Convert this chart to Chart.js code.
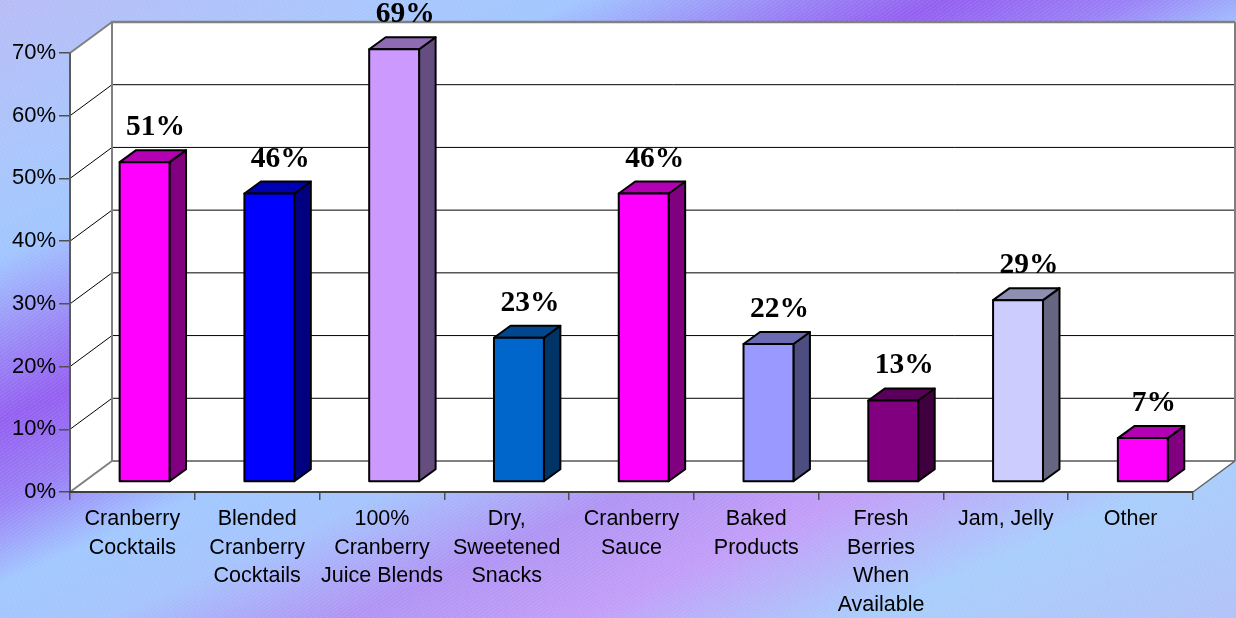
<!DOCTYPE html>
<html>
<head>
<meta charset="utf-8">
<script src="https://cdn.jsdelivr.net/npm/chart.js@4.4.1/dist/chart.umd.min.js"></script>
<style>
  html, body { margin: 0; padding: 0; overflow: hidden; }
  body {
    width: 1236px; height: 618px;
    background:
      repeating-linear-gradient(-35deg, rgba(255,255,255,0.07) 0 1px, rgba(255,255,255,0) 1px 3px),
      linear-gradient(156deg,
        #b8bcf6 0%, #aac6fc 14%, #a2c6ff 22%, #9a88f6 30%, #9460f0 36%,
        #9a80f6 43%, #a2c8ff 50%, #a6c4fd 57%, #b094f4 66%, #c29ef8 75%,
        #a8cefc 86%, #b2c2f8 100%);
  }
  #wrap { position: absolute; left: 0; top: 0; width: 1236px; height: 618px; }
</style>
</head>
<body>
<div id="wrap"><canvas id="cranChart" width="1236" height="618"></canvas></div>
<script>
/* 3D column chart: cranberry product usage */

const categories = [
  ['Cranberry', 'Cocktails'],
  ['Blended', 'Cranberry', 'Cocktails'],
  ['100%', 'Cranberry', 'Juice Blends'],
  ['Dry,', 'Sweetened', 'Snacks'],
  ['Cranberry', 'Sauce'],
  ['Baked', 'Products'],
  ['Fresh', 'Berries', 'When', 'Available'],
  ['Jam, Jelly'],
  ['Other'],
];
const shares = [51, 46, 69, 23, 46, 22, 13, 29, 7];
const barColors = ['#FF00FF', '#0000FF', '#CC99FF', '#0066CC', '#FF00FF', '#9999FF', '#800080', '#CCCCFF', '#FF00FF'];
const yMax = 70;
const yStep = 10;

// projection of the floor / walls and of each column's depth
const WALL = { dx: 42, dy: -31 };
const COL = { ox: 12.2, oy: -10, dx: 16.5, dy: -12 };
const EDGE = '#808080';

function shade(hex, f) {
  const n = parseInt(hex.slice(1), 16);
  const r = Math.round(((n >> 16) & 255) * f);
  const g = Math.round(((n >> 8) & 255) * f);
  const b = Math.round((n & 255) * f);
  return `rgb(${r},${g},${b})`;
}

function poly(ctx, pts) {
  ctx.beginPath();
  ctx.moveTo(pts[0][0], pts[0][1]);
  for (let i = 1; i < pts.length; i++) ctx.lineTo(pts[i][0], pts[i][1]);
  ctx.closePath();
}

function line(ctx, x1, y1, x2, y2, color, w) {
  ctx.beginPath(); ctx.moveTo(x1, y1); ctx.lineTo(x2, y2);
  ctx.strokeStyle = color; ctx.lineWidth = w; ctx.stroke();
}

const box3d = {
  id: 'box3d',
  beforeDatasetsDraw(chart) {
    const { ctx, chartArea: a, scales: { y } } = chart;
    const { dx, dy } = WALL;
    ctx.save();
    // back wall, side wall, floor
    ctx.fillStyle = '#ffffff';
    ctx.fillRect(a.left + dx, a.top + dy, a.right - a.left, a.bottom - a.top);
    poly(ctx, [[a.left, a.top], [a.left + dx, a.top + dy], [a.left + dx, a.bottom + dy], [a.left, a.bottom]]);
    ctx.fill();
    poly(ctx, [[a.left, a.bottom], [a.left + dx, a.bottom + dy], [a.right + dx, a.bottom + dy], [a.right, a.bottom]]);
    ctx.fill();

    // gridlines on the side and back walls
    y.ticks.forEach(t => {
      if (t.value === 0 || t.value === yMax) return;
      const py = y.getPixelForValue(t.value);
      line(ctx, a.left, py, a.left + dx, py + dy, '#000000', 1);
      line(ctx, a.left + dx, py + dy, a.right + dx, py + dy, '#000000', 1);
    });

    // wall edges
    const yt = y.getPixelForValue(yMax), yb = y.getPixelForValue(0);
    line(ctx, a.left, yt, a.left + dx, yt + dy, EDGE, 2);
    line(ctx, a.left + dx - 1, yt + dy, a.right + dx, yt + dy, EDGE, 2.5);
    line(ctx, a.left + dx, yt + dy, a.left + dx, yb + dy, EDGE, 2);
    line(ctx, a.right + dx, yt + dy, a.right + dx, yb + dy, EDGE, 2);
    line(ctx, a.left, yb, a.left + dx, yb + dy, EDGE, 2);
    line(ctx, a.left + dx, yb + dy, a.right + dx, yb + dy, EDGE, 2);
    line(ctx, a.right, yb, a.right + dx, yb + dy, '#606060', 1.5);

    // front axes
    line(ctx, a.left, yt, a.left, yb + 1, '#5a5a5a', 2);
    line(ctx, a.left - 1, yb, a.right, yb, '#404040', 2);
    ctx.restore();
  },
  afterDatasetsDraw(chart) {
    const { ctx } = chart;
    const meta = chart.getDatasetMeta(0);
    ctx.save();
    ctx.lineJoin = 'round';
    ctx.lineWidth = 2;
    ctx.strokeStyle = '#000000';
    meta.data.forEach((el, i) => {
      const L = el.x - el.width / 2 + COL.ox;
      const R = el.x + el.width / 2 + COL.ox;
      const T = el.y + COL.oy;
      const B = el.base + COL.oy;
      const c = barColors[i];
      // side face
      poly(ctx, [[R, T], [R + COL.dx, T + COL.dy], [R + COL.dx, B + COL.dy], [R, B]]);
      ctx.fillStyle = shade(c, 0.5); ctx.fill(); ctx.stroke();
      // top face
      poly(ctx, [[L, T], [L + COL.dx, T + COL.dy], [R + COL.dx, T + COL.dy], [R, T]]);
      ctx.fillStyle = shade(c, 0.7); ctx.fill(); ctx.stroke();
      // front face
      ctx.fillStyle = c;
      ctx.fillRect(L, T, R - L, B - T);
      ctx.strokeRect(L, T, R - L, B - T);

      // value label
      ctx.fillStyle = '#000000';
      ctx.font = 'bold 29.5px "Liberation Serif", "Times New Roman", serif';
      ctx.textAlign = 'center';
      ctx.textBaseline = 'alphabetic';
      ctx.fillText(`${shares[i]}%`, (L + R) / 2 + 11, T - 27);
    });
    ctx.restore();
  }
};

new Chart(document.getElementById('cranChart'), {
  type: 'bar',
  data: {
    labels: categories,
    datasets: [{
      data: shares,
      backgroundColor: 'rgba(0,0,0,0)',
      borderWidth: 0,
      barPercentage: 0.4,
      categoryPercentage: 1.0,
    }]
  },
  options: {
    responsive: false,
    animation: false,
    layout: { padding: { top: 53, right: 43, left: 0, bottom: 0 } },
    plugins: { legend: { display: false }, tooltip: { enabled: false } },
    scales: {
      x: {
        grid: { display: true, drawOnChartArea: false, drawTicks: true, tickLength: 8, color: '#505050', lineWidth: 1.5 },
        border: { display: false },
        ticks: {
          color: '#000000', padding: 5, maxRotation: 0, autoSkip: false,
          font: { family: '"Liberation Sans", Arial, sans-serif', size: 21.5, lineHeight: 1.33 }
        },
        afterFit(s) { s.height = 126; }
      },
      y: {
        min: 0, max: yMax,
        grid: { display: true, drawOnChartArea: false, drawTicks: true, tickLength: 11, color: '#505050', lineWidth: 1.5 },
        border: { display: false },
        ticks: {
          stepSize: yStep, color: '#000000', padding: 3,
          font: { family: '"Liberation Sans", Arial, sans-serif', size: 22 },
          callback: v => `${v}%`
        },
        afterFit(s) { s.width = 70; }
      }
    }
  },
  plugins: [box3d]
});
</script>
</body>
</html>
